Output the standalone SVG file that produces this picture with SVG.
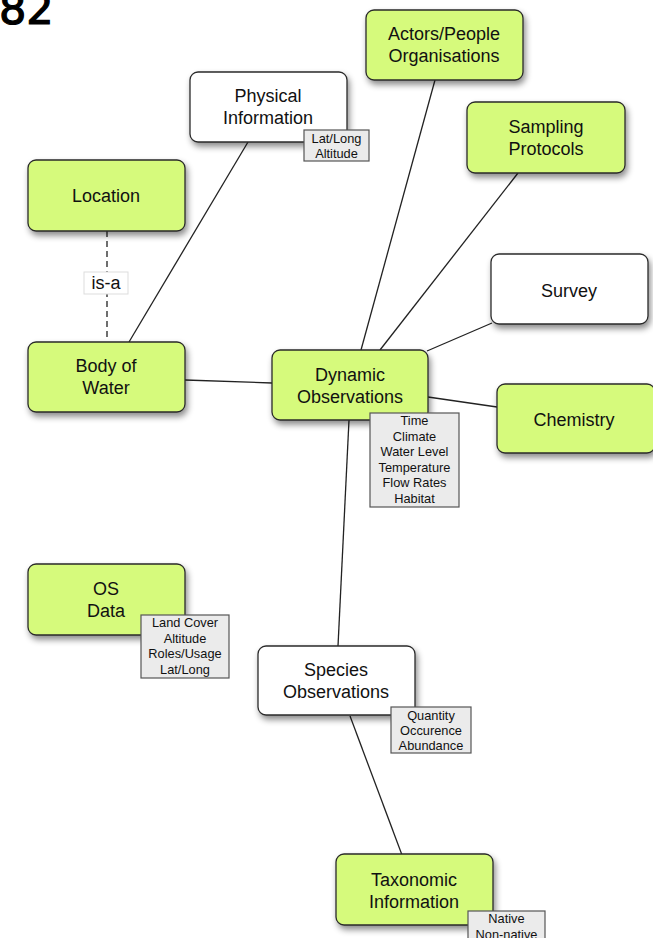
<svg xmlns="http://www.w3.org/2000/svg" width="653" height="938" viewBox="0 0 653 938">
<defs>
<filter id="sh" x="-20%" y="-20%" width="150%" height="160%">
<feDropShadow dx="2" dy="4" stdDeviation="3" flood-color="#000" flood-opacity="0.45"/>
</filter>
</defs>
<style>
.n{stroke:#2a2a2a;stroke-width:1.3;filter:url(#sh)}
.g{fill:#d6fa7c}
.w{fill:#ffffff}
.t{font-family:"Liberation Sans",Arial,sans-serif;font-size:18px;fill:#111;text-anchor:middle}
.a{fill:#ebebeb;stroke:#555;stroke-width:1.2}
.at{font-family:"Liberation Sans",Arial,sans-serif;font-size:12.8px;fill:#111;text-anchor:middle}
.c{stroke:#222;stroke-width:1.3;fill:none}
</style>
<rect width="653" height="938" fill="#fff"/>
<text x="-1" y="24" font-family="'DejaVu Sans',sans-serif" font-size="43" fill="#000" stroke="#000" stroke-width="1.2">82</text>
<g id="connectors">
<line class="c" x1="129" y1="342" x2="248" y2="142"/>
<line class="c" x1="107" y1="231" x2="107" y2="341" stroke-dasharray="6,4" stroke="#555"/>
<line class="c" x1="185" y1="380" x2="272" y2="383"/>
<line class="c" x1="361" y1="350" x2="435" y2="80"/>
<line class="c" x1="380" y1="350" x2="518" y2="173"/>
<line class="c" x1="427" y1="351" x2="492" y2="323"/>
<line class="c" x1="428" y1="397" x2="497" y2="407"/>
<line class="c" x1="349" y1="420" x2="338" y2="646"/>
<line class="c" x1="350" y1="716" x2="402" y2="855"/>
<g id="isa-label">
<rect x="84" y="272" width="44" height="22" fill="#fff" stroke="#ddd" stroke-width="1"/>
<text class="t" x="106" y="289" font-size="17">is-a</text>
</g>
</g>
<g id="actors">
<rect class="n g" x="366" y="10" width="157" height="70" rx="8"/>
<text class="t" x="444" y="40">Actors/People</text>
<text class="t" x="444" y="62">Organisations</text>
</g>
<g id="physical">
<rect class="n w" x="190" y="72" width="157" height="70" rx="8"/>
<text class="t" x="268" y="102">Physical</text>
<text class="t" x="268" y="124">Information</text>
<rect class="a" x="304" y="130" width="65" height="31"/>
<text class="at" x="336.5" y="143">Lat/Long</text>
<text class="at" x="336.5" y="158">Altitude</text>
</g>
<g id="sampling">
<rect class="n g" x="467" y="102" width="158" height="71" rx="8"/>
<text class="t" x="546" y="133">Sampling</text>
<text class="t" x="546" y="155">Protocols</text>
</g>
<g id="location">
<rect class="n g" x="28" y="160" width="157" height="71" rx="8"/>
<text class="t" x="106" y="202">Location</text>
</g>
<g id="survey">
<rect class="n w" x="491" y="254" width="157" height="70" rx="8"/>
<text class="t" x="569" y="297">Survey</text>
</g>
<g id="body-of-water">
<rect class="n g" x="28" y="342" width="157" height="70" rx="8"/>
<text class="t" x="106" y="372">Body of</text>
<text class="t" x="106" y="394">Water</text>
</g>
<g id="dynamic">
<rect class="n g" x="272" y="350" width="156" height="70" rx="8"/>
<text class="t" x="350" y="381">Dynamic</text>
<text class="t" x="350" y="403">Observations</text>
<rect class="a" x="370" y="413" width="89" height="94"/>
<text class="at" x="414.5" y="425">Time</text>
<text class="at" x="414.5" y="441">Climate</text>
<text class="at" x="414.5" y="456">Water Level</text>
<text class="at" x="414.5" y="472">Temperature</text>
<text class="at" x="414.5" y="487">Flow Rates</text>
<text class="at" x="414.5" y="503">Habitat</text>
</g>
<g id="chemistry">
<rect class="n g" x="497" y="384" width="158" height="69" rx="8"/>
<text class="t" x="574" y="426">Chemistry</text>
</g>
<g id="os-data">
<rect class="n g" x="28" y="564" width="157" height="71" rx="8"/>
<text class="t" x="106" y="595">OS</text>
<text class="t" x="106" y="617">Data</text>
<rect class="a" x="141" y="615" width="88" height="63"/>
<text class="at" x="185" y="627">Land Cover</text>
<text class="at" x="185" y="643">Altitude</text>
<text class="at" x="185" y="658">Roles/Usage</text>
<text class="at" x="185" y="674">Lat/Long</text>
</g>
<g id="species">
<rect class="n w" x="258" y="646" width="157" height="69" rx="8"/>
<text class="t" x="336" y="676">Species</text>
<text class="t" x="336" y="698">Observations</text>
<rect class="a" x="391" y="707" width="80" height="46"/>
<text class="at" x="431" y="720">Quantity</text>
<text class="at" x="431" y="735">Occurence</text>
<text class="at" x="431" y="750">Abundance</text>
</g>
<g id="taxonomic">
<rect class="n g" x="336" y="854" width="157" height="71" rx="8"/>
<text class="t" x="414" y="886">Taxonomic</text>
<text class="t" x="414" y="908">Information</text>
<rect class="a" x="468" y="911" width="77" height="40"/>
<text class="at" x="506.5" y="923">Native</text>
<text class="at" x="506.5" y="939">Non-native</text>
</g>
</svg>
